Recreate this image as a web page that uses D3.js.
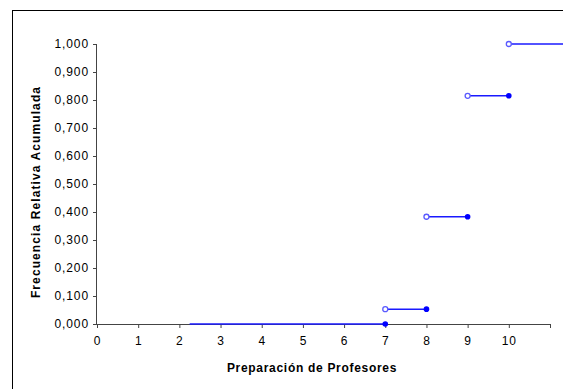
<!DOCTYPE html>
<html>
<head>
<meta charset="utf-8">
<script src="https://cdn.jsdelivr.net/npm/d3@7"></script>
<style>
  body { margin: 0; background: #fff; }
  text { font-family: "Liberation Sans", Arial, sans-serif; }
</style>
</head>
<body>
<div class="chart"></div>
<script>
// step function: each segment [from, to) at cumulative frequency
const stepFrom = [2.25, 7, 8, 9, 10]
const stepTo = [7, 8, 9, 10, 11.4]
const freqAcum = [0, 0.053, 0.383, 0.815, 1]
const xTicks = [0, 1, 2, 3, 4, 5, 6, 7, 8, 9, 10]
const yTicks = [0, 0.1, 0.2, 0.3, 0.4, 0.5, 0.6, 0.7, 0.8, 0.9, 1]

const W = 563, H = 389
const svg = d3.select('.chart').append('svg')
    .attr('width', W)
    .attr('height', H)

// outer frame (goes off the right and bottom)
svg.append('rect')
    .attr('x', 12.5).attr('y', 10.5)
    .attr('width', 700).attr('height', 500)
    .attr('fill', 'none').attr('stroke', '#000')

const x = d3.scaleLinear().domain([0, 11]).range([97, 550])
const y = d3.scaleLinear().domain([0, 1]).range([324, 44])

const fmt = d => d3.format('.3f')(d).replace('.', ',')

// y axis
const gy = svg.append('g')
    .attr('transform', 'translate(' + x(0) + ',0)')
    .call(d3.axisLeft(y).tickValues(yTicks).tickFormat(fmt).tickSize(4).tickPadding(4))
gy.select('.domain').attr('stroke', '#444').attr('d', 'M-0.5,' + y(1) + 'V' + y(0))
gy.selectAll('line').attr('stroke', '#444')
gy.selectAll('text').attr('font-size', 12).attr('letter-spacing', 0.9).attr('fill', '#000')

// x axis
const gx = svg.append('g')
    .attr('transform', 'translate(0,' + y(0) + ')')
    .call(d3.axisBottom(x).tickValues(xTicks.concat([11])).tickFormat(d => d == 11 ? '' : d).tickSize(4).tickPadding(8))
gx.select('.domain').attr('stroke', '#444').attr('d', 'M' + x(0) + ',0.5H' + x(11))
gx.selectAll('line').attr('stroke', '#444')
gx.selectAll('text').attr('font-size', 12).attr('letter-spacing', 0.9).attr('fill', '#000')

// axis titles
svg.append('text')
    .attr('x', 312).attr('y', 372)
    .attr('text-anchor', 'middle')
    .attr('font-size', 12).attr('font-weight', 'bold').attr('letter-spacing', 0.7)
    .text('Preparación de Profesores')

svg.append('text')
    .attr('transform', 'translate(40,192) rotate(-90)')
    .attr('text-anchor', 'middle')
    .attr('font-size', 12).attr('font-weight', 'bold').attr('letter-spacing', 1.1)
    .text('Frecuencia Relativa Acumulada')

const segs = freqAcum.map((v, i) => ({from: stepFrom[i], to: stepTo[i], v: v}))

svg.selectAll('.seg').data(segs).enter().append('line')
    .attr('class', 'seg')
    .attr('x1', d => x(d.from)).attr('x2', d => x(d.to))
    .attr('y1', d => y(d.v)).attr('y2', d => y(d.v))
    .attr('stroke', '#1a1aff').attr('stroke-width', 1.5)

// open circles at the start of each jump
svg.selectAll('.open').data(segs.slice(1)).enter().append('circle')
    .attr('cx', d => x(d.from)).attr('cy', d => y(d.v))
    .attr('r', 2.5)
    .attr('fill', '#fff').attr('stroke', '#5a5aff').attr('stroke-width', 1.3)

// closed circles at the end of each segment
svg.selectAll('.closed').data(segs.slice(0, -1)).enter().append('circle')
    .attr('cx', d => x(d.to)).attr('cy', d => y(d.v))
    .attr('r', 2.8)
    .attr('fill', '#0000ff')
</script>
</body>
</html>
